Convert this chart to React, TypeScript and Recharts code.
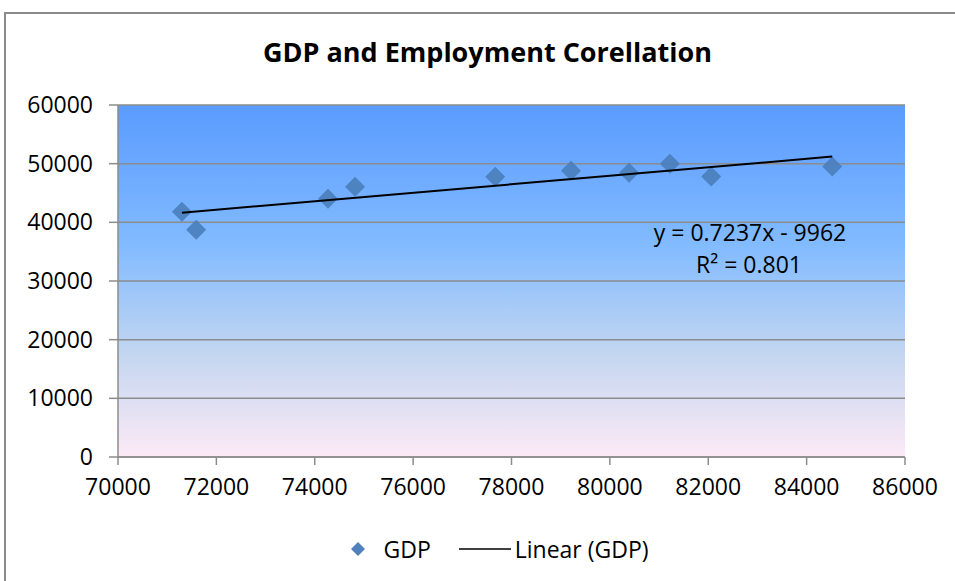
import { ScatterChart, Scatter, XAxis, YAxis, CartesianGrid } from 'recharts'

// employment (x) vs GDP (y)
const employment = [71300, 71590, 74270, 74820, 77670, 79210, 80390, 81220, 82060, 84520]
const gdp = [41800, 38750, 44000, 46050, 47750, 48800, 48450, 50000, 47800, 49500]
const xTicks = [70000, 72000, 74000, 76000, 78000, 80000, 82000, 84000, 86000]
const yTicks = [0, 10000, 20000, 30000, 40000, 50000, 60000]

// trendline as printed on the chart
const slope = 0.7237
const intercept = -9962
const equation = 'y = 0.7237x - 9962'
const rSquared = 'R² = 0.801'

const points = employment.map((x, i) => ({ x, y: gdp[i] }))
const xMin = Math.min(...employment)
const xMax = Math.max(...employment)
const trend = [
  { x: xMin, y: slope * xMin + intercept },
  { x: xMax, y: slope * xMax + intercept },
]

const font = '"Open Sans", sans-serif'

const Diamond = (props: any) => {
  const { cx, cy } = props
  const r = 10
  return (
    <path
      d={`M${cx},${cy - r}L${cx + r},${cy}L${cx},${cy + r}L${cx - r},${cy}Z`}
      fill="#4a7ebb"
      fillOpacity={0.9}
    />
  )
}

const LegendBox = () => (
  <div
    style={{
      position: 'absolute',
      left: 0,
      width: 1000,
      top: 533,
      display: 'flex',
      alignItems: 'center',
      justifyContent: 'center',
      fontFamily: font,
      fontSize: 23,
      lineHeight: '32px',
      color: '#000',
    }}
  >
    <svg width={14} height={14} style={{ marginRight: 18 }}>
      <path d="M7,0L14,7L7,14L0,7Z" fill="#4f81bd" />
    </svg>
    <span style={{ marginRight: 28 }}>GDP</span>
    <svg width={52} height={4} style={{ marginRight: 4 }}>
      <line x1={0} y1={2} x2={52} y2={2} stroke="#000" strokeWidth={1.5} />
    </svg>
    <span>Linear (GDP)</span>
  </div>
)

export default function App() {
  return (
    <div style={{ position: 'absolute', left: 0, top: 0, width: 955, height: 581, background: '#fff', overflow: 'hidden' }}>
      <div
        style={{
          position: 'absolute',
          left: 4,
          top: 12,
          width: 960,
          height: 600,
          borderLeft: '2px solid #8a8a8a',
          borderTop: '2px solid #8a8a8a',
        }}
      />
      <div
        style={{
          position: 'absolute',
          left: 0,
          width: 975,
          top: 35,
          textAlign: 'center',
          fontFamily: font,
          fontWeight: 700,
          fontSize: 27,
          lineHeight: '34px',
          color: '#000',
        }}
      >
        GDP and Employment Corellation
      </div>
      <ScatterChart
        width={955}
        height={581}
        margin={{ top: 105, right: 50, bottom: 84, left: 18 }}
        style={{ position: 'absolute', left: 0, top: 0 }}
      >
        <defs>
          <linearGradient id="plotBg" x1="0" y1="0" x2="0" y2="1">
            <stop offset="0%" stopColor="#5a9bff" />
            <stop offset="40%" stopColor="#82bbff" />
            <stop offset="72%" stopColor="#c6d7f0" />
            <stop offset="100%" stopColor="#fdeaf6" />
          </linearGradient>
        </defs>
        <CartesianGrid vertical={false} fill="url(#plotBg)" fillOpacity={1} stroke="#8c8c8c" strokeWidth={1.5} />
        <XAxis
          type="number"
          dataKey="x"
          domain={[70000, 86000]}
          ticks={xTicks}
          height={40}
          tickSize={8}
          tickMargin={14}
          stroke="#8c8c8c"
          strokeWidth={1.5}
          tick={{ fill: '#000', fontSize: 23, fontFamily: font }}
          allowDataOverflow
        />
        <YAxis
          type="number"
          dataKey="y"
          domain={[0, 60000]}
          ticks={yTicks}
          width={100}
          tickSize={9}
          tickMargin={16}
          stroke="#8c8c8c"
          strokeWidth={1.5}
          tick={{ fill: '#000', fontSize: 23, fontFamily: font }}
        />
        <Scatter name="GDP" data={points} shape={Diamond} isAnimationActive={false} />
        <Scatter
          name="Linear (GDP)"
          data={trend}
          line={{ stroke: '#000', strokeWidth: 2 }}
          shape={() => <g />}
          isAnimationActive={false}
        />
        <text x={750} y={241} textAnchor="middle" fontFamily={font} fontSize={23} fill="#000">
          {equation}
        </text>
        <text x={749} y={273} textAnchor="middle" fontFamily={font} fontSize={23} fill="#000">
          {rSquared}
        </text>
      </ScatterChart>
      <LegendBox />
    </div>
  )
}
